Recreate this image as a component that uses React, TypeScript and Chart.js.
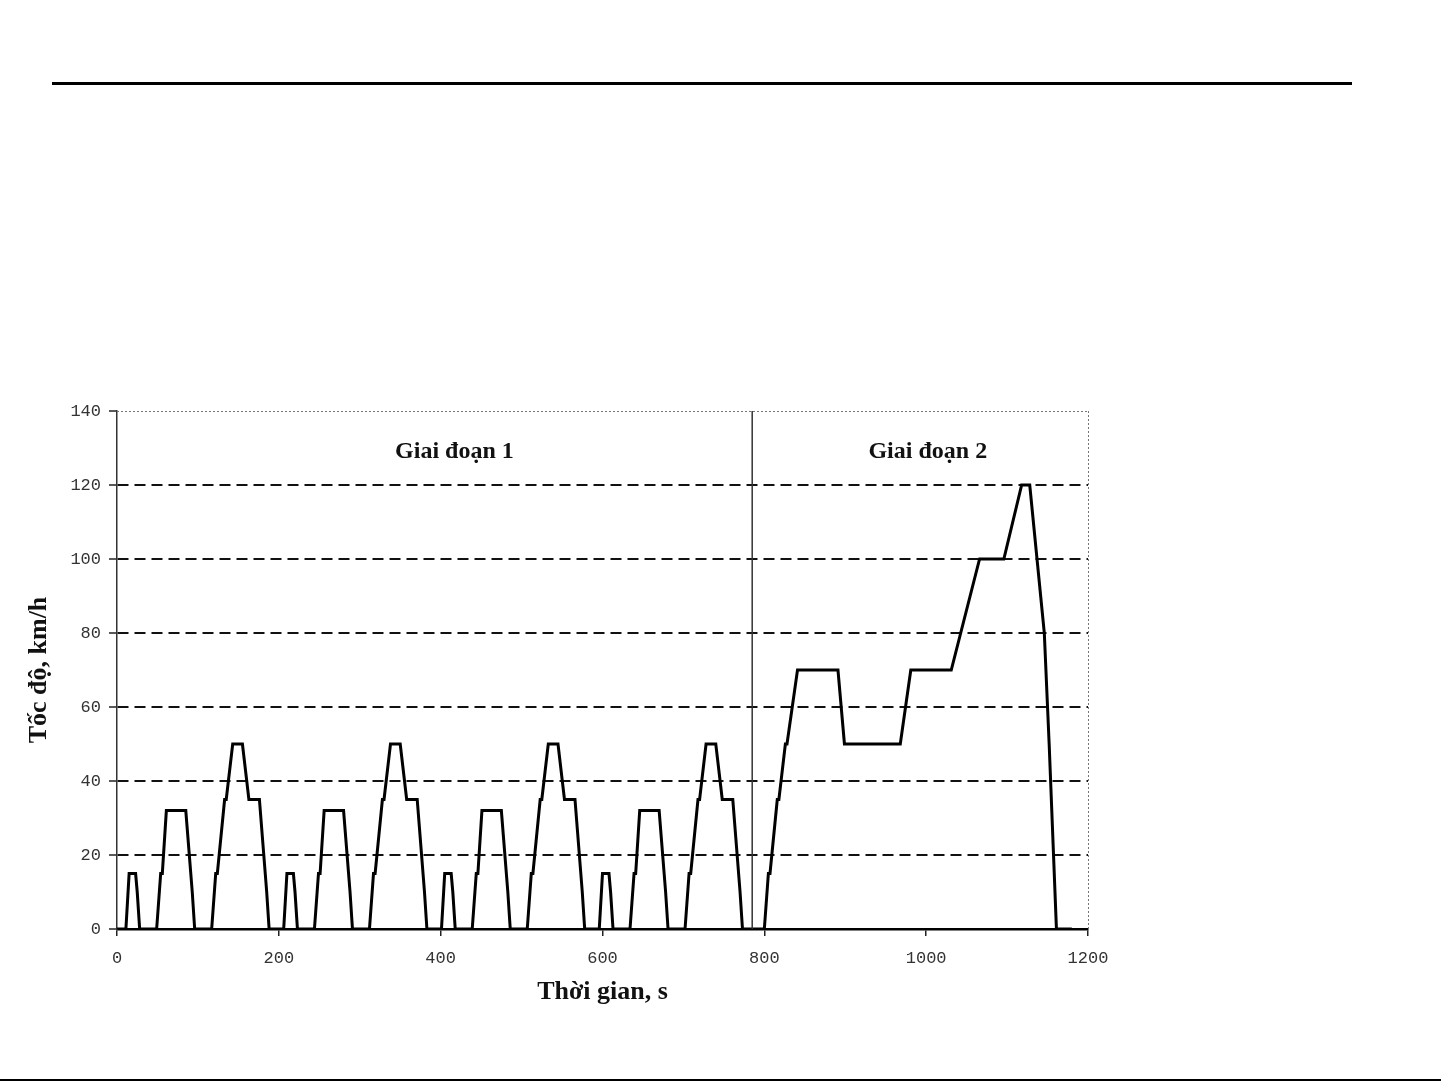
import React, { useEffect, useRef } from "react";
import { Chart, registerables } from "chart.js";

Chart.register(...registerables);

// Time (s) of each break point of the driving cycle
const timeSeconds: number[] = [
  // Giai đoạn 1 – chu trình 1
  0, 11, 15, 23, 25, 28, 49, 54, 56, 61, 85, 93, 96, 117, 122, 124, 133, 135, 143, 155, 163, 176, 185, 188,
  // chu trình 2
  195, 206, 210, 218, 220, 223, 244, 249, 251, 256, 280, 288, 291, 312, 317, 319, 328, 330, 338, 350, 358, 371, 380, 383,
  // chu trình 3
  390, 401, 405, 413, 415, 418, 439, 444, 446, 451, 475, 483, 486, 507, 512, 514, 523, 525, 533, 545, 553, 566, 575, 578,
  // chu trình 4
  585, 596, 600, 608, 610, 613, 634, 639, 641, 646, 670, 678, 681, 702, 707, 709, 718, 720, 728, 740, 748, 761, 770, 773,
  // Giai đoạn 2
  780, 800, 805, 807, 816, 818, 826, 828, 841, 891, 899, 968, 981, 1031, 1066, 1096, 1118, 1128, 1146, 1152, 1161, 1180,
];

// Speed (km/h) at each break point
const speedKmh: number[] = [
  0, 0, 15, 15, 10, 0, 0, 15, 15, 32, 32, 10, 0, 0, 15, 15, 35, 35, 50, 50, 35, 35, 10, 0,
  0, 0, 15, 15, 10, 0, 0, 15, 15, 32, 32, 10, 0, 0, 15, 15, 35, 35, 50, 50, 35, 35, 10, 0,
  0, 0, 15, 15, 10, 0, 0, 15, 15, 32, 32, 10, 0, 0, 15, 15, 35, 35, 50, 50, 35, 35, 10, 0,
  0, 0, 15, 15, 10, 0, 0, 15, 15, 32, 32, 10, 0, 0, 15, 15, 35, 35, 50, 50, 35, 35, 10, 0,
  0, 0, 15, 15, 35, 35, 50, 50, 70, 70, 50, 50, 70, 70, 100, 100, 120, 120, 80, 50, 0, 0,
];

const xTicks: number[] = [0, 200, 400, 600, 800, 1000, 1200];
const yTicks: number[] = [0, 20, 40, 60, 80, 100, 120, 140];
const phaseLabels: string[] = ["Giai đoạn 1", "Giai đoạn 2"];
const phaseLabelTimes: number[] = [417, 1002];
const phaseLabelSpeed = 129;
const phaseBoundary = 785;
const xTitle = "Thời gian, s";
const yTitle = "Tốc độ, km/h";

export default function App() {
  const ref = useRef<HTMLCanvasElement | null>(null);

  useEffect(() => {
    document.body.style.margin = "0";
    document.body.style.overflow = "hidden";
    const canvas = ref.current;
    if (!canvas) return;

    const decor = {
      id: "decor",
      beforeDraw(chart: any) {
        const c = chart.ctx;
        c.save();
        c.fillStyle = "#fff";
        c.fillRect(0, 0, chart.width, chart.height);
        c.restore();
      },
      afterDraw(chart: any) {
        const c = chart.ctx;
        const xs = chart.scales.x;
        const ys = chart.scales.y;
        c.save();
        // page rules
        c.fillStyle = "#000";
        c.fillRect(52, 82, 1300, 3);
        c.fillRect(0, 1079, 1441, 2);
        // dotted top and right frame
        c.strokeStyle = "#777";
        c.lineWidth = 1;
        c.setLineDash([2, 2]);
        c.beginPath();
        c.moveTo(xs.getPixelForValue(0), ys.getPixelForValue(140) + 0.5);
        c.lineTo(xs.getPixelForValue(1200), ys.getPixelForValue(140) + 0.5);
        c.moveTo(xs.getPixelForValue(1200) + 0.5, ys.getPixelForValue(140));
        c.lineTo(xs.getPixelForValue(1200) + 0.5, ys.getPixelForValue(0));
        c.stroke();
        c.setLineDash([]);
        // phase boundary
        c.strokeStyle = "#333";
        c.lineWidth = 1.5;
        c.beginPath();
        const bx = xs.getPixelForValue(phaseBoundary);
        c.moveTo(bx, ys.getPixelForValue(140));
        c.lineTo(bx, ys.getPixelForValue(0));
        c.stroke();
        // phase labels
        c.fillStyle = "#111";
        c.font = "bold 24px 'Liberation Serif'";
        c.textAlign = "center";
        c.textBaseline = "middle";
        phaseLabels.forEach((t, i) => {
          c.fillText(t, xs.getPixelForValue(phaseLabelTimes[i]), ys.getPixelForValue(phaseLabelSpeed));
        });
        c.restore();
      },
    };

    const chart = new Chart(canvas, {
      type: "line",
      data: {
        datasets: [
          {
            data: timeSeconds.map((t, i) => ({ x: t, y: speedKmh[i] })),
            borderColor: "#000",
            borderWidth: 3,
            pointRadius: 0,
            tension: 0,
            fill: false,
          },
        ],
      },
      plugins: [decor],
      options: {
        responsive: false,
        animation: false,
        events: [],
        layout: { padding: { top: 411, right: 353, bottom: 72, left: 20 } },
        plugins: { legend: { display: false }, tooltip: { enabled: false } },
        scales: {
          x: {
            type: "linear",
            min: 0,
            max: 1200,
            afterFit: (s: any) => {
              s.height = 80;
            },
            afterBuildTicks: (s: any) => {
              s.ticks = xTicks.map((v) => ({ value: v }));
            },
            ticks: {
              autoSkip: false,
              maxRotation: 0,
              padding: 12,
              color: "#333",
              font: { family: "'Liberation Mono'", size: 17 },
              callback: (v: any) => String(v),
            },
            grid: { drawOnChartArea: false, tickLength: 7, tickColor: "#222", lineWidth: 1.5 },
            border: { display: true, color: "#000", width: 2.5 },
            title: {
              display: true,
              text: xTitle,
              color: "#111",
              font: { family: "'Liberation Serif'", size: 26, weight: "bold" },
              padding: { top: 0, bottom: 1 },
            },
          },
          y: {
            type: "linear",
            min: 0,
            max: 140,
            afterFit: (s: any) => {
              s.width = 97;
            },
            afterBuildTicks: (s: any) => {
              s.ticks = yTicks.map((v) => ({ value: v }));
            },
            ticks: {
              padding: 8,
              color: "#333",
              font: { family: "'Liberation Mono'", size: 17 },
              callback: (v: any) => String(v),
            },
            grid: {
              color: (ctx: any) =>
                ctx.tick && (ctx.tick.value === 0 || ctx.tick.value === 140) ? "rgba(0,0,0,0)" : "#111",
              lineWidth: 2,
              tickLength: 8,
              tickColor: "#222",
              tickWidth: 1.5,
            },
            border: { display: true, color: "#333", width: 1.5, dash: [11, 6] },
            title: {
              display: true,
              text: yTitle,
              color: "#111",
              font: { family: "'Liberation Serif'", size: 26, weight: "bold" },
              padding: { top: 4, bottom: 0 },
            },
          },
        },
      },
    } as any);

    return () => chart.destroy();
  }, []);

  return (
    <div style={{ position: "absolute", left: 0, top: 0, width: 1441, height: 1081 }}>
      <canvas ref={ref} width={1441} height={1081} style={{ width: 1441, height: 1081, display: "block" }} />
    </div>
  );
}
